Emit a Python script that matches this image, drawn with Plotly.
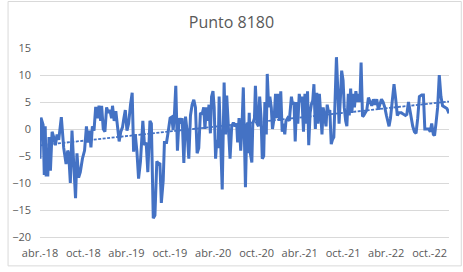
import datetime as dt
import numpy as np
import plotly.graph_objects as go

start_date = "2018-04-01"
day_offsets = [0, 4, 13, 18, 22, 26, 33, 38, 44, 51, 58, 65, 72, 79, 90, 100, 110, 117, 121, 128,
               135, 142, 150, 156, 163, 170, 179, 188, 196, 202, 209, 215, 221, 228, 235, 242, 249, 256, 260, 267,
               274, 281, 288, 295, 302, 306, 313, 320, 327, 334, 341, 348, 354, 360, 367, 374, 382, 389, 395, 402,
               409, 416, 424, 434, 441, 448, 455, 464, 470, 478, 485, 493, 500, 506, 512, 520, 525, 534, 541, 549,
               556, 562, 567, 573, 580, 587, 594, 600, 607, 614, 621, 628, 635, 642, 649, 656, 663, 670, 677, 684,
               691, 696, 702, 708, 713, 719, 724, 730, 735, 741, 746, 752, 756, 762, 769, 777, 783, 788, 795, 802,
               809, 816, 823, 830, 834, 840, 847, 852, 858, 862, 867, 873, 877, 883, 888, 894, 898, 905, 909, 916,
               922, 927, 933, 938, 944, 949, 955, 959, 965, 970, 976, 981, 988, 994, 999, 1005, 1011, 1016, 1022, 1027,
               1033, 1038, 1045, 1052, 1061, 1066, 1072, 1077, 1083, 1088, 1094, 1099, 1105, 1112, 1118, 1123, 1129, 1134, 1140, 1145,
               1151, 1156, 1162, 1168, 1173, 1179, 1184, 1190, 1195, 1201, 1207, 1212, 1218, 1223, 1229, 1234, 1240, 1245, 1251, 1256,
               1262, 1268, 1273, 1279, 1284, 1290, 1295, 1301, 1305, 1311, 1316, 1322, 1327, 1333, 1339, 1344, 1350, 1355, 1361, 1366,
               1372, 1379, 1386, 1393, 1400, 1407, 1414, 1421, 1428, 1434, 1441, 1448, 1455, 1462, 1469, 1473, 1479, 1487, 1494, 1500,
               1508, 1515, 1525, 1532, 1542, 1548, 1555, 1561, 1567, 1573, 1580, 1587, 1594, 1601, 1611, 1618, 1624, 1632, 1640, 1647,
               1653, 1660, 1665, 1671, 1678, 1685, 1692, 1699, 1710, 1717, 1726]
values = [-5.5, 2.1, 0.8, -8.5, 0.5, -8.5, -8.5, -1.5, -7.7, -0.5, -1.5, -3, -1, -2, 2.2, -3.5, -6.5, -4, -4.5, -10,
          -0.3, -7, -12.8, -4.5, -9, -8, -5.5, -4, 0.5, -2.5, -0.3, -3.4, 0.5, -0.3, 4.1, 2, 4.3, 1.5, 4.3, 0,
          -0.5, 4, 3, 3.5, 2, 4.3, 1.5, 3.3, 0, -2.3, -0.5, 0.3, 2, 3.5, -0.3, 1.0, 4.5, 6.7, -4.2, -1.0,
          -4.2, -9.2, -6, 1.5, -3, -2.5, -8, 1.5, 1.0, -16.5, -16, -6, -6.5, -6.3, -13.7, -9.5, -2.5, -2.5, -0.5, 2,
          2.2, -0.2, 2.5, 8, -4, 2, 1, 2, -6.3, 2.3, -0.5, -5.5, 2.5, 4.5, 5.4, 4, -4.5, -3.5, 3, 2.7,
          4, 0, 4, 1.5, 4.5, -0.8, 6, 7, 4, -5.5, -2, -3.5, 6, -4.5, -11.2, 8.6, -1, 6.2, -1, -5.5,
          0.5, 1.2, 0.5, 1, -2.5, 2, -4, 0, 7.7, 0.5, -10.8, 1, -4.5, 3, -4.6, -6.2, 1, 2, 8, 1,
          0.5, 6, 2, -5.5, -5, 5, -1, 10.2, 4, 6, 4, 0, 2, 6.5, 2, 6.5, 1.5, 7, -0.5, 1,
          -1, 1.5, 2, 1.5, 6, 4.5, 5, -2.3, 5, 1, 6.5, 5, 6, -0.5, 6.5, 1, 7, -3, 3, 4.5,
          5.3, 8.3, 0, 6.7, 1, 6.5, 2.5, -1, 4, 2, 0.5, 4.5, 3, 3.5, -2.8, -2, -1.5, 5, 13.3, 8,
          1, 6, 10.8, 9, 4, 1.5, 0.5, 6.5, 2.5, 7.5, 3, 6.5, 4, 7, 5, 6.5, 5, 12.3, 2.3, 2.5,
          3, 3.5, 5.8, 5, 4.3, 5.5, 4.5, 5.5, 3.6, 4.5, 5.5, 5, 4, 2.5, 1, 0.5, 2, 5.5, 8.3, 6,
          2.5, 3, 3, 2.8, 2.5, 2.7, 5, 3.5, 1.5, 0.5, -0.5, -0.8, 2, 6, 6.3, 6.3, 0, 0, 0, -0.5,
          1, -1, -1.2, 1, 4, 10, 6, 4.3, 4, 3.8, 2.9]
tick_dates = ["2018-04-01", "2018-10-01", "2019-04-01", "2019-10-01", "2020-04-01",
              "2020-10-01", "2021-04-01", "2021-10-01", "2022-04-01", "2022-10-01"]
tick_labels = ["abr.-18", "oct.-18", "abr.-19", "oct.-19", "abr.-20",
               "oct.-20", "abr.-21", "oct.-21", "abr.-22", "oct.-22"]
y_ticks = [-20, -15, -10, -5, 0, 5, 10, 15]

base = dt.date.fromisoformat(start_date)
dates = [base + dt.timedelta(days=d) for d in day_offsets]

# linear trend line (as in Excel)
coef = np.polyfit(day_offsets, values, 1)
trend = [coef[0] * day_offsets[0] + coef[1], coef[0] * day_offsets[-1] + coef[1]]
trend_dates = [dates[0], dates[-1]]

BLUE = "#4472C4"
GRID = "#D9D9D9"
TXT = "#595959"

fig = go.Figure()
fig.add_trace(go.Scatter(x=dates, y=values, mode="lines",
                         line=dict(color=BLUE, width=3), showlegend=False,
                         hoverinfo="skip"))
fig.add_trace(go.Scatter(x=trend_dates, y=trend, mode="lines",
                         line=dict(color=BLUE, width=1.8, dash="3px,1.5px"),
                         showlegend=False, hoverinfo="skip"))

W, H = 463, 272
ml, mr, mt, mb = 33, 14, 48, 31
pw, ph = W - ml - mr, H - mt - mb

fig.update_layout(
    width=W, height=H,
    margin=dict(l=ml, r=mr, t=mt, b=mb, pad=0),
    paper_bgcolor="white", plot_bgcolor="white",
    font=dict(family="Open Sans", color=TXT, size=11),
    title=dict(text="Punto 8180", x=0.5, xanchor="center", y=1 - 22 / H,
               yanchor="middle", yref="container",
               font=dict(family="Open Sans", size=16, color=TXT)),
    xaxis=dict(type="date", range=[dates[0], dates[-1]],
               tickmode="array", tickvals=tick_dates, ticktext=tick_labels,
               showgrid=False, zeroline=False, showline=True, linecolor=GRID,
               linewidth=1, ticks="", ticklabelstandoff=6,
               tickfont=dict(size=11, color=TXT)),
    yaxis=dict(range=[-20, 15], tickmode="array", tickvals=y_ticks,
               showgrid=True, gridcolor=GRID, gridwidth=1, zeroline=False,
               showline=False, ticks="", ticklabelstandoff=8,
               tickfont=dict(size=11, color=TXT)),
    shapes=[dict(type="rect", xref="paper", yref="paper",
                 x0=(0.5 - ml) / pw, x1=(W - 1.5 - ml) / pw,
                 y0=-(mb - 1.5) / ph,
                 y1=1 + (mt - 0.5) / ph,
                 line=dict(color=GRID, width=1), fillcolor="rgba(0,0,0,0)",
                 layer="above")],
)

fig.write_html("out.html")
